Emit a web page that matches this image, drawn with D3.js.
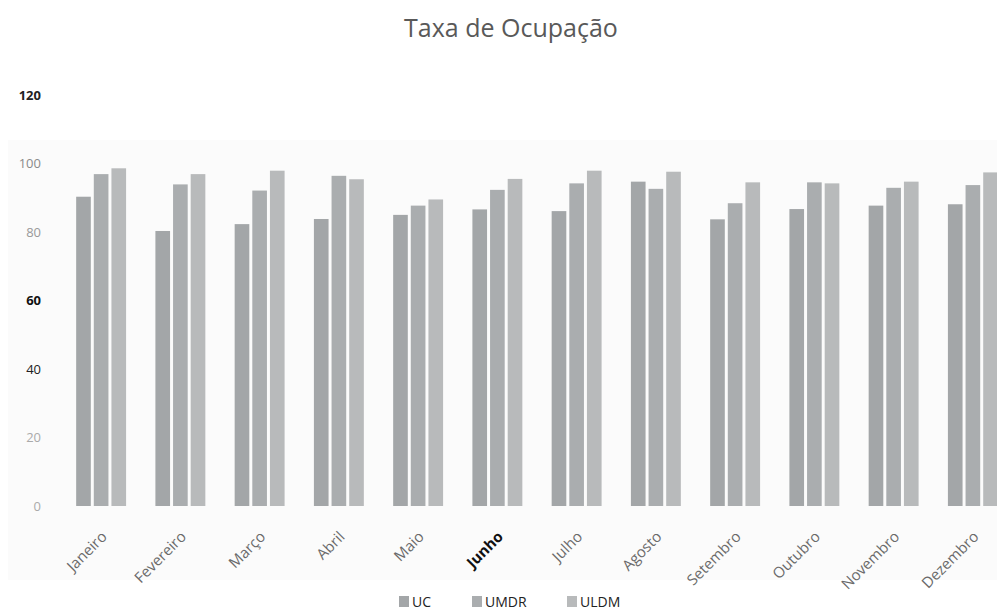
<!DOCTYPE html>
<html><head><meta charset="utf-8">
<script src="https://cdn.jsdelivr.net/npm/d3@7"></script>
<style>
html,body{margin:0;padding:0;background:#fff;}
svg{display:block;font-family:"Open Sans","Noto Sans",sans-serif;}
</style></head>
<body><svg id="chart" width="997" height="616"></svg>
<script>
const months = ["Janeiro","Fevereiro","Março","Abril","Maio","Junho","Julho","Agosto","Setembro","Outubro","Novembro","Dezembro"];
const seriesNames = ["UC","UMDR","ULDM"];
const UC   = [90.3,80.3,82.3,83.8,85.0,86.6,86.1,94.7,83.7,86.7,87.7,88.1];
const UMDR = [96.9,93.9,92.1,96.4,87.7,92.3,94.2,92.6,88.4,94.5,92.9,93.7];
const ULDM = [98.6,96.9,97.9,95.4,89.5,95.5,97.9,97.6,94.5,94.2,94.7,97.4];
const yTicks = [0,20,40,60,80,100,120];
const title = "Taxa de Ocupação";

const seriesValues = [UC, UMDR, ULDM];
const colors = {UC:"#a3a6a8", UMDR:"#aaadaf", ULDM:"#b8babb"};
const tickStyle = {120:["#222","bold"],100:["#8a8a8a","normal"],80:["#999","normal"],60:["#111","bold"],40:["#222","normal"],20:["#aaa","normal"],0:["#aaa","normal"]};

const svg = d3.select("#chart");
svg.append("rect").attr("x",8).attr("y",140).attr("width",989).attr("height",440).attr("fill","#fbfbfb");

const y = d3.scaleLinear().domain([0,120]).range([506,95]);
const x0 = d3.scaleBand().domain(months).range([61.5,1012.5]).paddingInner(0.37).paddingOuter(0.185);
const x1 = d3.scaleBand().domain(seriesNames).range([0,x0.bandwidth()]).paddingInner(0.17);

svg.append("text").attr("x",511).attr("y",37).attr("text-anchor","middle")
  .attr("font-size",25).attr("fill","#595959").attr("font-family","'Open Sans',sans-serif").text(title);

const yAxis = svg.append("g").attr("transform","translate(41,0)")
  .call(d3.axisLeft(y).tickValues(yTicks).tickSize(0).tickPadding(0));
yAxis.select(".domain").remove();
yAxis.selectAll("text").attr("font-size",13).attr("font-family","'Open Sans',sans-serif")
  .attr("fill",d=>tickStyle[d][0]).attr("font-weight",d=>tickStyle[d][1]);

const groups = svg.append("g").selectAll("g").data(months).join("g")
  .attr("transform",d=>`translate(${x0(d)},0)`);
groups.selectAll("rect").data((m,i)=>seriesNames.map((s,k)=>({s,v:seriesValues[k][i]})))
  .join("rect")
  .attr("x",d=>x1(d.s)).attr("width",x1.bandwidth())
  .attr("y",d=>y(d.v)).attr("height",d=>y(0)-y(d.v))
  .attr("fill",d=>colors[d.s]);

const xAxis = svg.append("g").attr("transform","translate(0,512)")
  .call(d3.axisBottom(x0).tickSize(0).tickPadding(0));
xAxis.select(".domain").remove();
xAxis.selectAll("text")
  .attr("font-size",15).attr("font-family","'Open Sans',sans-serif")
  .attr("fill",d=>d==="Junho"?"#111":"#6a6a6a")
  .attr("font-weight",d=>d==="Junho"?"bold":"normal")
  .attr("text-anchor","end").attr("dy","0.35em")
  .attr("transform","translate(3,22) rotate(-45)");

const legend = svg.append("g");
const legX = [399,472,567];
seriesNames.forEach((s,i)=>{
  legend.append("rect").attr("x",legX[i]).attr("y",596).attr("width",10).attr("height",11).attr("fill",colors[s]);
  legend.append("text").attr("x",legX[i]+13).attr("y",607).attr("font-size",14)
    .attr("font-family","'Open Sans',sans-serif").attr("fill","#222").text(s);
});
</script></body></html>
